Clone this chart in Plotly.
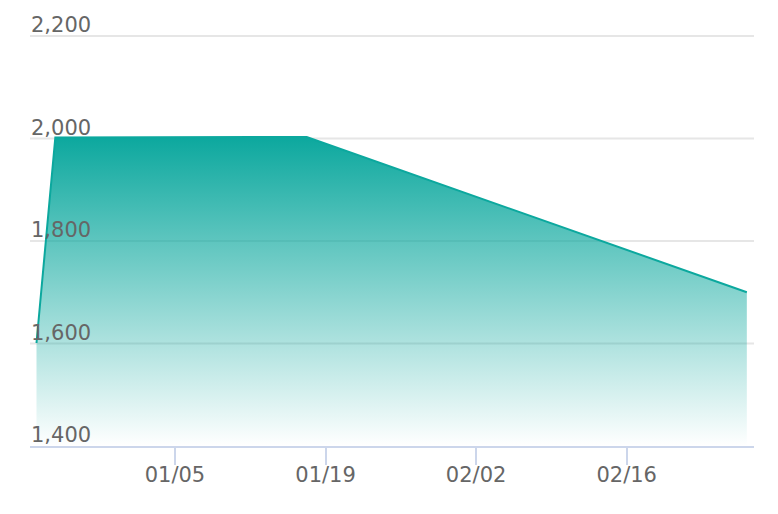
import plotly.graph_objects as go

dates = ["2023-12-23 03:00", "2023-12-24 21:00", "2024-01-17 06:00", "2024-02-27 04:00"]
values = [1601, 2002, 2003, 1700]

x_tick_vals = ["2024-01-05", "2024-01-19", "2024-02-02", "2024-02-16"]
x_tick_text = ["01/05", "01/19", "02/02", "02/16"]
y_tick_vals = [1400, 1600, 1800, 2000, 2200]
y_tick_text = ["1,400", "1,600", "1,800", "2,000", "2,200"]

teal = "rgb(12,168,158)"

fig = go.Figure()
fig.add_trace(go.Scatter(
    x=dates, y=values, mode="lines",
    line=dict(color=teal, width=2),
    fill="tozeroy",
    fillgradient=dict(type="vertical", start=1400, stop=2003,
                      colorscale=[[0, "rgba(12,168,158,0)"], [1, "rgba(12,168,158,1)"]]),
    hoverinfo="skip",
))

font = dict(family="DejaVu Sans, Verdana, sans-serif", size=21, color="#666666")

# horizontal gridlines (drawn below the series) and labels sitting just above them
for v, t in zip(y_tick_vals, y_tick_text):
    if v != y_tick_vals[0]:
        fig.add_shape(type="line", xref="paper", x0=0, x1=1, yref="y", y0=v, y1=v,
                      line=dict(color="#e6e6e6", width=2), layer="below")
    fig.add_annotation(x=0, xref="paper", xanchor="left", y=v, yref="y",
                       yanchor="bottom", yshift=-3, text=t, showarrow=False,
                       font=font, xshift=-1)

# page body has an 8px margin; figure is sized and offset to compensate
fig.update_layout(
    width=770, height=506,
    margin=dict(l=22, r=24, t=27, b=68),
    paper_bgcolor="white", plot_bgcolor="white",
    showlegend=False,
    font=font,
    xaxis=dict(
        range=["2023-12-22 12:30", "2024-02-27 20:00"],
        tickvals=x_tick_vals, ticktext=x_tick_text,
        ticks="outside", ticklen=17, tickwidth=2, tickcolor="#ccd6eb",
        showline=True, linecolor="#ccd6eb", linewidth=2,
        showgrid=False, zeroline=False,
        tickfont=font, automargin=False,
        ticklabelstandoff=-8,
    ),
    yaxis=dict(
        range=[1400, 2202],
        tickvals=y_tick_vals,
        showticklabels=False, ticks="",
        showgrid=False,
        showline=False, zeroline=False,
        automargin=False,
    ),
)

fig.write_html("out.html")
